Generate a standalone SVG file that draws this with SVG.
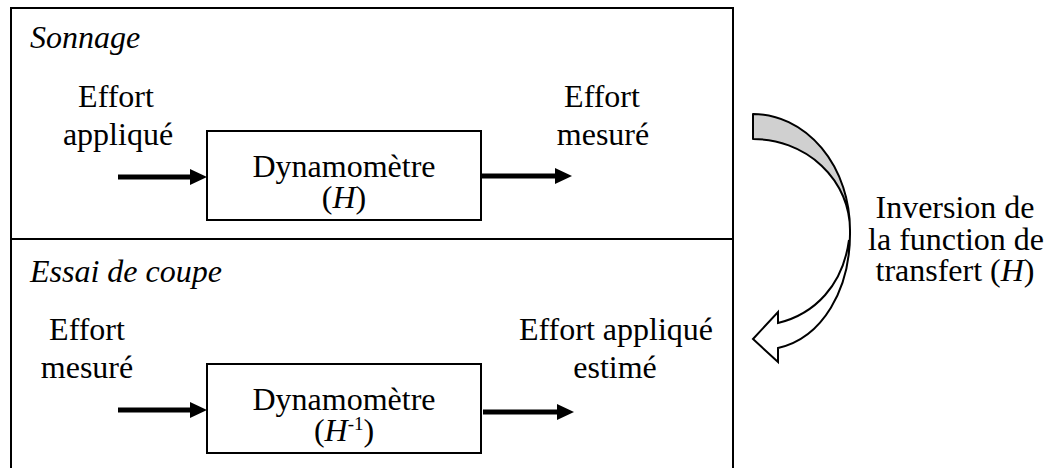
<svg xmlns="http://www.w3.org/2000/svg" width="1052" height="468" viewBox="0 0 1052 468">
<defs>
<marker id="ah" viewBox="0 0 17 16" refX="5" refY="8" markerWidth="17" markerHeight="16" markerUnits="userSpaceOnUse" orient="auto">
<path d="M0,0 L17,8 L0,16 Z" fill="#000"/>
</marker>
</defs>
<rect width="1052" height="468" fill="#fff"/>
<g id="frame">
<rect x="11" y="8" width="722" height="480" fill="none" stroke="#000" stroke-width="2"/>
<line x1="11" y1="239" x2="733" y2="239" stroke="#000" stroke-width="2"/>
</g>
<g id="sonnage">
<text font-family="Liberation Serif" font-size="32" font-style="italic" x="30" y="48">Sonnage</text>
</g>
<g id="effort-applique-in">
<text font-family="Liberation Serif" font-size="32" text-anchor="middle" x="116" y="107">Effort</text>
<text font-family="Liberation Serif" font-size="32" text-anchor="middle" x="118" y="145">appliqu&#233;</text>
</g>
<g id="dyn1">
<rect x="207" y="131" width="274" height="89" fill="#fff" stroke="#000" stroke-width="2"/>
<text font-family="Liberation Serif" font-size="32" text-anchor="middle" x="344" y="177">Dynamom&#232;tre</text>
<text font-family="Liberation Serif" font-size="32" text-anchor="middle" x="344" y="208">(<tspan font-style="italic">H</tspan>)</text>
</g>
<g id="effort-mesure-out">
<text font-family="Liberation Serif" font-size="32" text-anchor="middle" x="602" y="107">Effort</text>
<text font-family="Liberation Serif" font-size="32" text-anchor="middle" x="603" y="145">mesur&#233;</text>
</g>
<g id="essai">
<text font-family="Liberation Serif" font-size="32" font-style="italic" x="30" y="282">Essai de coupe</text>
</g>
<g id="effort-mesure-in">
<text font-family="Liberation Serif" font-size="32" text-anchor="middle" x="87" y="340">Effort</text>
<text font-family="Liberation Serif" font-size="32" text-anchor="middle" x="87" y="378">mesur&#233;</text>
</g>
<g id="dyn2">
<rect x="207" y="364" width="274" height="89" fill="#fff" stroke="#000" stroke-width="2"/>
<text font-family="Liberation Serif" font-size="32" text-anchor="middle" x="344" y="410">Dynamom&#232;tre</text>
<text font-family="Liberation Serif" font-size="32" text-anchor="middle" x="344" y="441">(<tspan font-style="italic">H</tspan><tspan font-size="19" dy="-11">-1</tspan><tspan dy="11">)</tspan></text>
</g>
<g id="effort-estime-out">
<text font-family="Liberation Serif" font-size="32" text-anchor="middle" x="616" y="340">Effort appliqu&#233;</text>
<text font-family="Liberation Serif" font-size="32" text-anchor="middle" x="615" y="378">estim&#233;</text>
</g>
<g id="inversion">
<text font-family="Liberation Serif" font-size="32" text-anchor="middle" x="955" y="218">Inversion de</text>
<text font-family="Liberation Serif" font-size="32" text-anchor="middle" x="956" y="250">la function de</text>
<text font-family="Liberation Serif" font-size="32" text-anchor="middle" x="955" y="281">transfert (<tspan font-style="italic">H</tspan>)</text>
</g>
<g id="connectors" stroke="#000">
<line x1="118" y1="177" x2="195" y2="177" stroke-width="5" marker-end="url(#ah)"/>
<line x1="481" y1="176" x2="560" y2="176" stroke-width="5" marker-end="url(#ah)"/>
<line x1="118" y1="410" x2="195" y2="410" stroke-width="5" marker-end="url(#ah)"/>
<line x1="483" y1="412" x2="562" y2="412" stroke-width="5" marker-end="url(#ah)"/>
<path d="M753,114 A97,116 0 0 1 850,230 A97,91 0 0 0 753,139 Z" fill="#d0d0d0" stroke-width="2" stroke-linejoin="round"/>
<path d="M850,230 C851,290 822,338 778,348 L778,362 L753,339 L778,312 L778,323 C815,314 843,285 849,240" fill="#fff" stroke-width="2"/>
</g>
</svg>
